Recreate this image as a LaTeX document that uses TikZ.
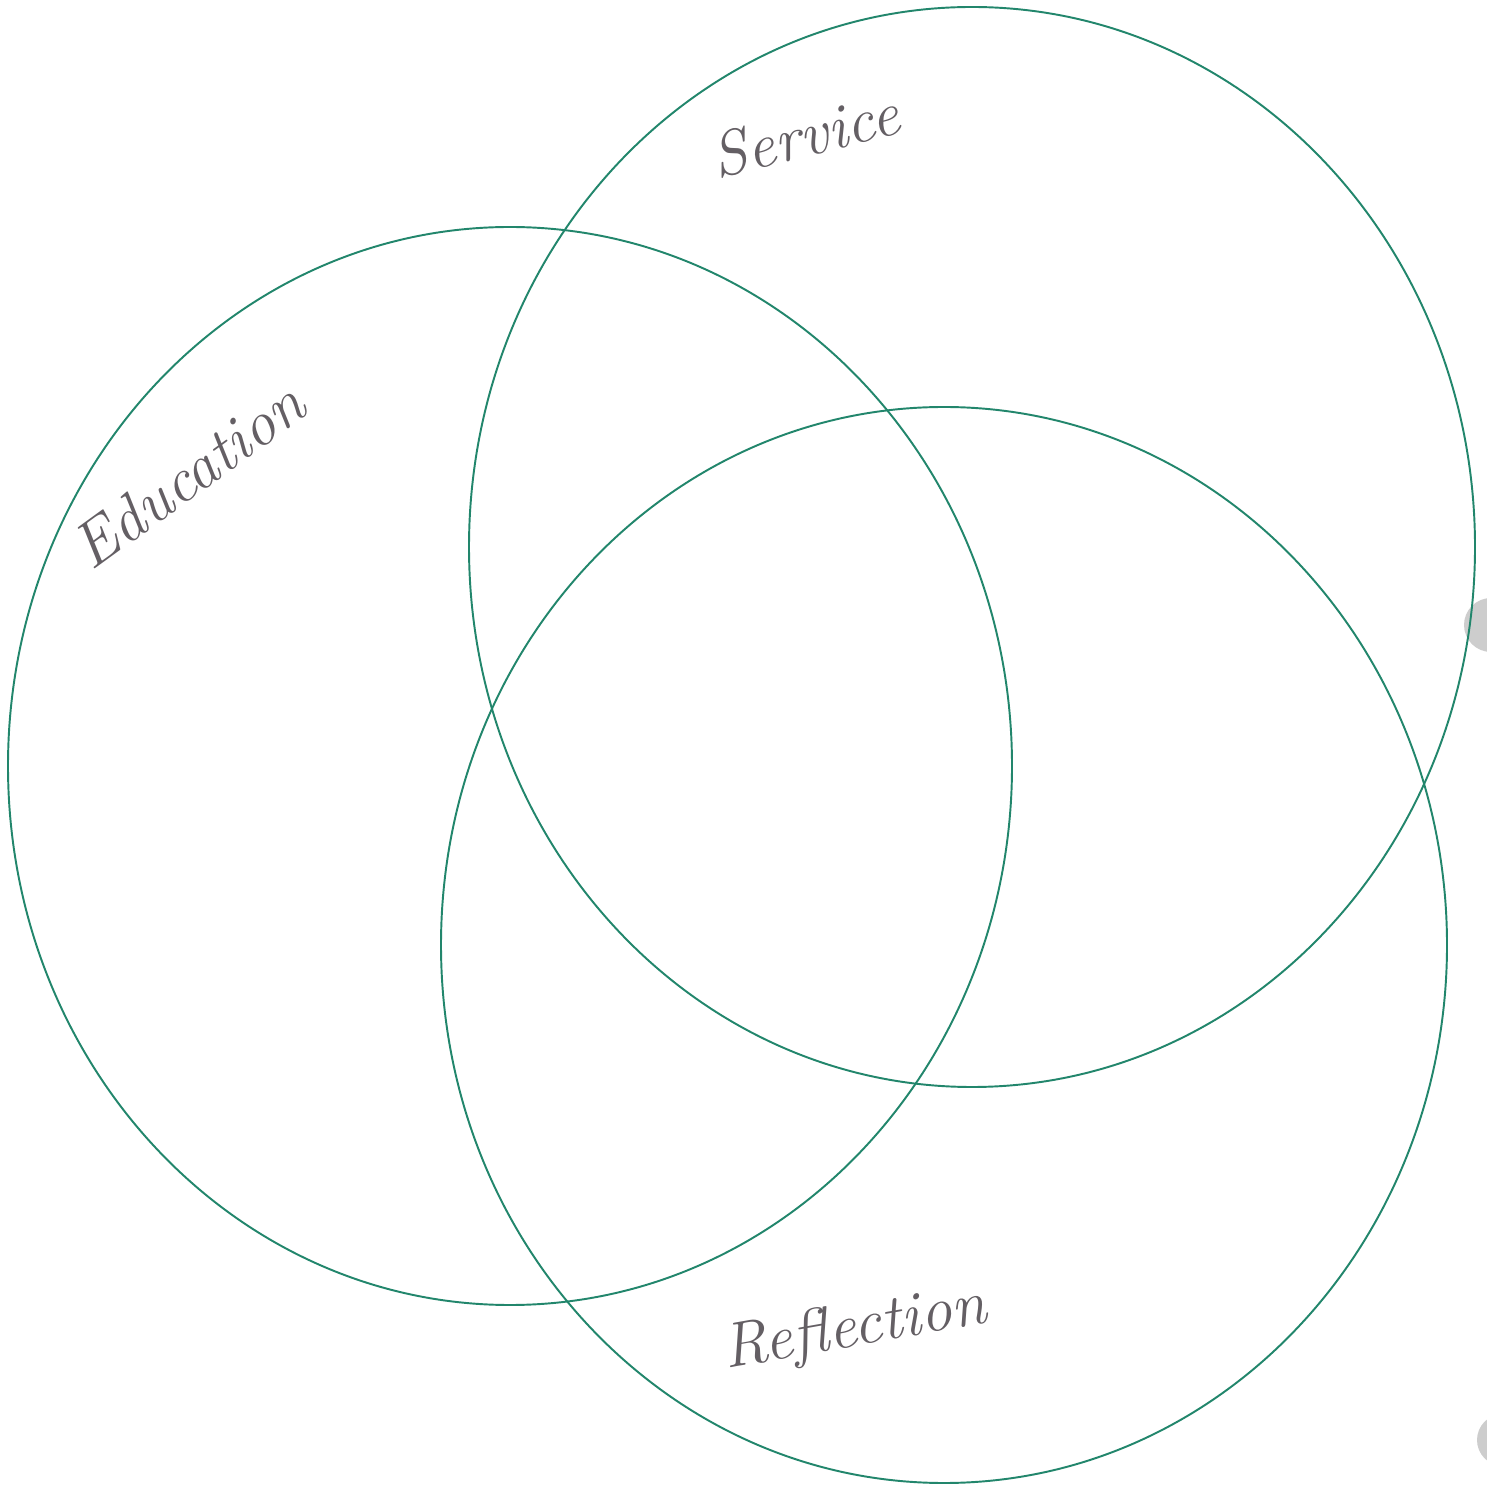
\documentclass[tikz,border=0pt]{standalone}
\begin{document}
\begin{tikzpicture}[x=0.02cm,y=0.02cm,
  venn/.style={draw=venngreen,line width=1.1pt},
  hand/.style={text=handgray,font=\fontsize{36}{40}\selectfont\itshape,inner sep=0pt},
  punch/.style={fill=punchgray,draw=none}]
\definecolor{venngreen}{RGB}{34,134,108}
\definecolor{handgray}{RGB}{100,95,100}
\definecolor{punchgray}{RGB}{205,205,205}
\useasboundingbox (0,0) rectangle (1487,1485);
\clip (0,0) rectangle (1487,1485);
\fill[white] (0,0) rectangle (1487,1485);
% hole punches
\fill[punch] (1491,860) circle (27);
\fill[punch] (1503,45) circle (26);
% three ellipses
\draw[venn] (510,719) ellipse [x radius=502, y radius=539];
\draw[venn] (972,938) ellipse [x radius=503, y radius=540];
\draw[venn] (944,540) ellipse [x radius=503, y radius=538];
% handwritten labels
\node[hand,rotate=14] (service) at (805,1350) {Service};
\node[hand,rotate=36] (education) at (188,1010) {Education};
\node[hand,rotate=10] (reflection) at (855,155) {Reflection};
\end{tikzpicture}
\end{document}
